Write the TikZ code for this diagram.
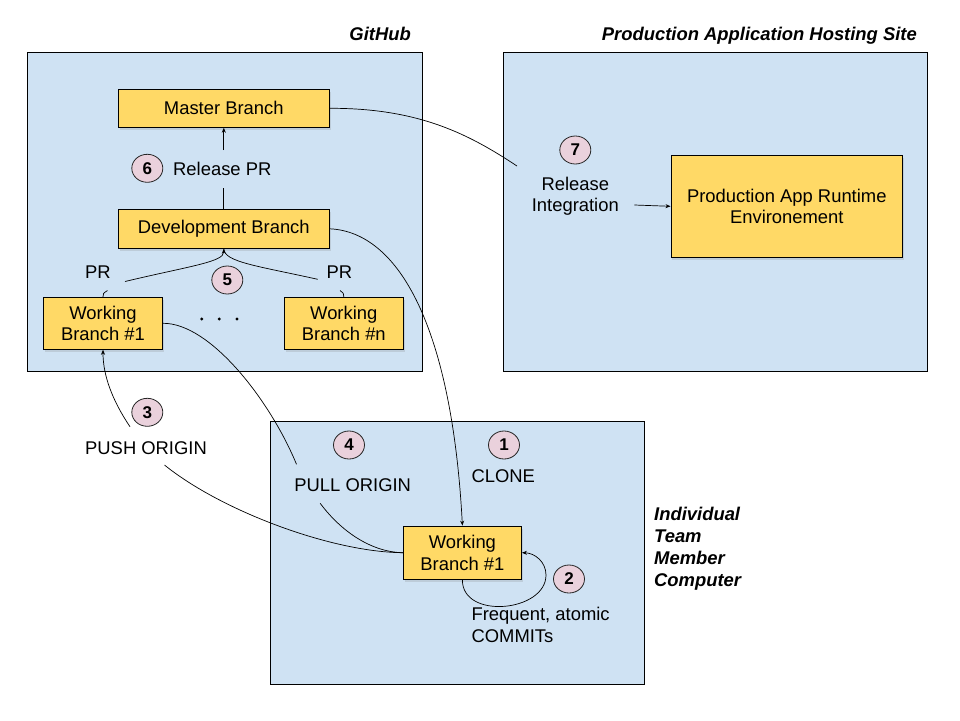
\documentclass[tikz,border=0pt]{standalone}
\usepackage{fontspec}
\setmainfont{Liberation Sans}
\usetikzlibrary{arrows.meta,shadows,shapes.geometric}
\definecolor{bluebg}{HTML}{CFE2F3}
\definecolor{ybox}{HTML}{FFD966}
\definecolor{pinkc}{HTML}{EAD1DC}
\begin{document}
\begin{tikzpicture}[x=1pt,y=-1pt,
  font=\fontsize{18.4}{21.5}\selectfont,
  region/.style={draw=black, fill=bluebg, line width=1pt, inner sep=0pt},
  branch/.style={draw=black, fill=ybox, line width=0.9pt, align=center, inner sep=0pt,
    drop shadow={shadow xshift=1.5pt, shadow yshift=-3pt, opacity=0.22}},
  num/.style={ellipse, draw=black!85, fill=pinkc, line width=0.8pt, minimum width=31pt, minimum height=28pt,
    inner sep=0pt, font=\fontsize{17}{20}\selectfont\bfseries},
  lbl/.style={align=center, inner sep=0pt},
  title/.style={inner sep=0pt, font=\fontsize{18.4}{22}\selectfont\bfseries\itshape},
  conn/.style={line width=0.7pt},
  arr/.style={conn, -{Stealth[length=5pt,width=4pt]}},
  dotm/.style={circle, fill=black, inner sep=0pt, minimum size=3.2pt}
]
\useasboundingbox (0,0) rectangle (960,720);

% regions
\node[region, minimum width=395pt, minimum height=319pt] (gh) at (224.5,211.5) {};
\node[region, minimum width=424pt, minimum height=319pt] (prodsite) at (715,211.5) {};
\node[region, minimum width=374pt, minimum height=263pt] (indiv) at (457.5,552.7) {};

% titles
\node[title, anchor=east] (ghlbl) at (411,34) {GitHub};
\node[title, anchor=east] (prodlbl) at (917,36) {Production Application Hosting Site};
\node[title, anchor=west, align=left, font=\fontsize{18.4}{22}\selectfont\bfseries\itshape] (indivlbl) at (654,549) {Individual\\Team\\Member\\Computer};

% branches
\node[branch, minimum width=211pt, minimum height=38pt] (master) at (223.8,108.3) {Master Branch};
\node[branch, minimum width=211pt, minimum height=39pt] (dev) at (223.8,228.8) {Development Branch};
\node[branch, minimum width=119.4pt, minimum height=52pt] (wb1) at (103,323.3) {Working\\Branch \#1};
\node[branch, minimum width=119pt, minimum height=52pt] (wbn) at (343.8,323.3) {Working\\Branch \#n};
\node[branch, minimum width=231.7pt, minimum height=102pt] (runtime) at (786.8,206.3) {Production App Runtime\\Environement};
\node[branch, minimum width=118.2pt, minimum height=53.3pt] (lwb) at (462.4,552.7) {Working\\Branch \#1};

% numbers
\node[num] (n6) at (147.3,168.3) {6};
\node[num] (n5) at (227.3,280) {5};
\node[num] (n7) at (575.3,150) {7};
\node[num] (n3) at (147.3,412.3) {3};
\node[num] (n4) at (349,445) {4};
\node[num] (n1) at (504,445) {1};
\node[num] (n2) at (569,579) {2};

% labels
\node[lbl, anchor=west] (relpr) at (173,168.5) {Release PR};
\node[lbl] (pr1) at (98,272.5) {PR};
\node[lbl] (pr2) at (339.5,272.5) {PR};
\node[lbl] (relint) at (575.3,196) {Release\\Integration};
\node[lbl] (push) at (146,447.7) {PUSH ORIGIN};
\node[lbl] (pull) at (352.7,485.3) {PULL ORIGIN};
\node[lbl] (clone) at (503.3,475.7) {CLONE};
\node[lbl, anchor=west, align=left] (freq) at (471.4,625) {Frequent, atomic\\COMMITs};

% dots
\node[dotm] (d1) at (201.7,319) {};
\node[dotm] (d2) at (219.3,319) {};
\node[dotm] (d3) at (237,319) {};

% coordinates for broken connectors
\coordinate (rp1) at (223.8,188);
\coordinate (rp2) at (223.8,150);
\coordinate (pr1a) at (107.5,290.5);
\coordinate (pr1b) at (125,281.5);
\coordinate (pr2a) at (340,290.5);
\coordinate (pr2b) at (317.7,279.3);
\coordinate (ri1) at (517,166);
\coordinate (ri2) at (634.3,205);
\coordinate (push1) at (164.5,465);
\coordinate (push2) at (130,426.7);
\coordinate (pull1) at (296.5,464.3);
\coordinate (pull2) at (320.2,503.3);

% connectors
\draw[conn] (dev.north) -- (rp1);
\draw[arr] (rp2) -- (master.south);
\draw[conn] (wb1.north) .. controls (103,293.5) .. (pr1a);
\draw[arr] (pr1b) .. controls (190,266) and (223.8,262) .. (dev.south);
\draw[conn] (pr2b) .. controls (258,266) and (223.8,262) .. (dev.south);
\draw[conn] (pr2a) .. controls (343.8,293.5) .. (wbn.north);
\draw[conn] (master.east) .. controls (420,108) and (470,135) .. (ri1);
\draw[arr] (ri2) -- (runtime.west);
\draw[conn] (lwb.west) .. controls (330,552) and (220,510) .. (push1);
\draw[arr] (push2) .. controls (112,400) and (103,375) .. (wb1.south);
\draw[conn] (wb1.east) .. controls (210,323) and (270,400) .. (pull1);
\draw[conn] (pull2) .. controls (340,530) and (370,552) .. (lwb.west);
\draw[arr] (dev.east) .. controls (400,232) and (452,330) .. (lwb.north);
\draw[arr] (lwb.south) .. controls (462,620) and (546,612) .. (546,575) .. controls (546,562) and (535,553) .. (lwb.east);
\end{tikzpicture}
\end{document}
